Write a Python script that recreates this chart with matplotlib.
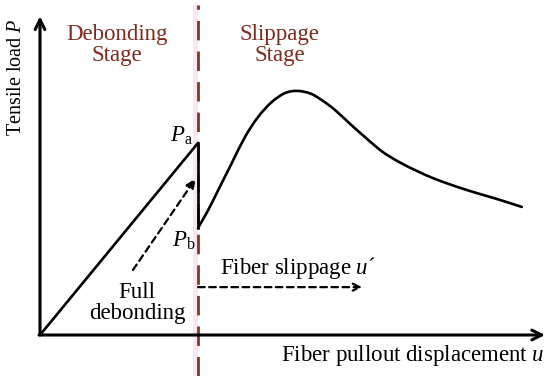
import numpy as np
import matplotlib.pyplot as plt
from matplotlib.path import Path
from matplotlib.patches import PathPatch

plt.rcParams['font.family'] = ['Liberation Serif', 'DejaVu Serif']
plt.rcParams['mathtext.fontset'] = 'custom'
plt.rcParams['mathtext.rm'] = 'Liberation Serif'
plt.rcParams['mathtext.it'] = 'Liberation Serif:italic'

# schematic load-displacement curve (arbitrary units, axes run 0..10)
u_debond = [0.0, 3.13]
p_debond = [0.0, 6.06]
u_pa, p_pa = 3.13, 6.06
u_pb, p_pb = 3.13, 3.38
u_slip = [3.13, 3.33, 3.56, 3.80, 4.06, 4.32, 4.59, 4.85, 5.09, 5.35, 5.58, 5.84,
          6.14, 6.48, 6.79, 7.13, 7.47, 7.78, 8.12, 8.46, 8.77, 9.11, 9.54]
p_slip = [3.38, 3.94, 4.67, 5.43, 6.25, 6.88, 7.35, 7.63, 7.70, 7.62, 7.41, 7.10,
          6.66, 6.18, 5.77, 5.44, 5.17, 4.95, 4.75, 4.57, 4.42, 4.26, 4.04]

# annotation arrows
full_debond_start = (1.84, 2.05)
full_debond_end = (3.09, 4.95)
slip_arrow_u = [3.13, 6.38]
slip_arrow_p = 1.51

brown_text = '#7f2a1d'
brown_line = '#7a3b20'


def smooth_path(xs, ys):
    """Catmull-Rom through the points, drawn as cubic bezier segments."""
    pts = np.column_stack([xs, ys])
    verts = [pts[0]]
    codes = [Path.MOVETO]
    for i in range(len(pts) - 1):
        p0 = pts[i - 1] if i > 0 else pts[i]
        p1, p2 = pts[i], pts[i + 1]
        p3 = pts[i + 2] if i + 2 < len(pts) else pts[i + 1]
        verts += [p1 + (p2 - p0) / 6, p2 - (p3 - p1) / 6, p2]
        codes += [Path.CURVE4] * 3
    return Path(verts, codes)


fig = plt.figure(figsize=(5.5, 3.76), dpi=100)
ax = fig.add_axes([40 / 550, (376 - 335) / 376, 505 / 550, 317 / 376])
ax.set_xlim(0, 10)
ax.set_ylim(0, 10)
ax.axis('off')

# stage boundary
ax.axvspan(u_pa - 0.11, u_pa, ymin=-0.13, ymax=1.04, color='#fde6f0', lw=0, clip_on=False, zorder=0)
ax.axvline(u_pa, ymin=-0.13, ymax=1.04, color=brown_line, lw=2, dashes=(7, 4), clip_on=False, zorder=1)

# axes with arrows
ax.annotate('', xy=(0, 10.05), xytext=(0, 0), annotation_clip=False,
            arrowprops=dict(arrowstyle='->,head_length=0.7,head_width=0.35', lw=2.2, color='black',
                            shrinkA=0, shrinkB=0))
ax.annotate('', xy=(10.0, 0), xytext=(-0.02, 0), annotation_clip=False,
            arrowprops=dict(arrowstyle='->,head_length=0.7,head_width=0.35', lw=2.2, color='black',
                            shrinkA=0, shrinkB=0))

# curve
ax.plot(u_debond, p_debond, color='black', lw=1.9, solid_capstyle='round', zorder=3)
ax.plot([u_pa, u_pb], [p_pa, p_pb], color='black', lw=1.9, zorder=2)
ax.add_patch(PathPatch(smooth_path(u_slip, p_slip), fill=False, edgecolor='black', lw=1.9,
                       capstyle='round', zorder=3))

# dashed arrows
ax.annotate('', xy=full_debond_end, xytext=full_debond_start,
            arrowprops=dict(arrowstyle='-|>,head_length=0.6,head_width=0.25', lw=1.6, color='black',
                            linestyle=(0, (3, 2)), shrinkA=0, shrinkB=0))
ax.annotate('', xy=(slip_arrow_u[1], slip_arrow_p), xytext=(slip_arrow_u[0], slip_arrow_p),
            arrowprops=dict(arrowstyle='->,head_length=0.5,head_width=0.25', lw=1.6, color='black',
                            linestyle=(0, (3, 2)), shrinkA=0, shrinkB=0))

# labels
fs = 16.5
ax.text(1.52, 9.15, 'Debonding\nStage', color=brown_text, fontsize=fs, ha='center', va='center',
        linespacing=1.05)
ax.text(4.75, 9.15, 'Slippage\nStage', color=brown_text, fontsize=fs, ha='center', va='center',
        linespacing=1.05)
ax.text(-0.47, 8.14, 'Tensile load $P$', fontsize=14.5, rotation=90, ha='center', va='center', clip_on=False)
ax.text(10.0, -0.66, 'Fiber pullout displacement $u$', fontsize=fs, ha='right', va='center', clip_on=False)
ax.text(3.56, 2.11, 'Fiber slippage $u$\u00b4', fontsize=fs, ha='left', va='center')
ax.text(1.92, 1.01, 'Full\ndebonding', fontsize=fs, ha='center', va='center', linespacing=1.0)
ax.text(2.80, 6.28, r'$P_{\rm a}$', fontsize=fs, ha='center', va='center')
ax.text(2.85, 2.98, r'$P_{\rm b}$', fontsize=fs, ha='center', va='center')

fig.savefig('out.png', dpi=100)
